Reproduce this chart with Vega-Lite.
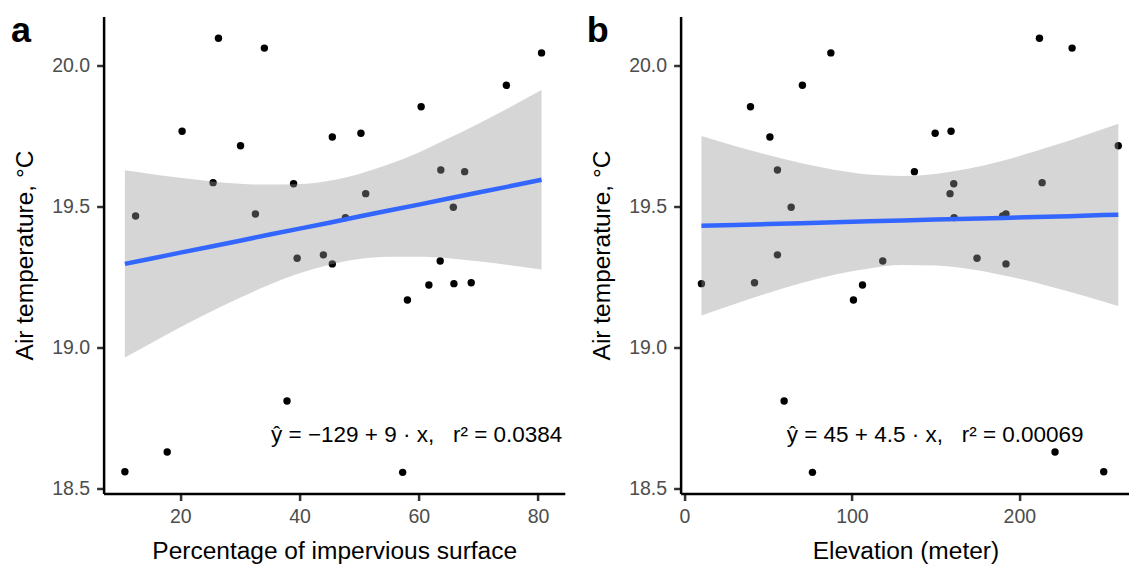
{
  "$schema": "https://vega.github.io/schema/vega-lite/v6.json",
  "background": "white",
  "padding": {"left": 10.6, "top": 12.5, "right": 0, "bottom": 0},
  "spacing": 115,
  "bounds": "flush",
  "config": {
    "view": {"stroke": null},
    "font": "Liberation Sans",
    "axis": {
      "grid": false,
      "domainColor": "black",
      "domainWidth": 2.5,
      "tickColor": "#333333",
      "tickWidth": 2.5,
      "tickSize": 7,
      "labelColor": "#4D4D4D",
      "labelFontSize": 19.5,
      "labelFont": "Liberation Sans",
      "labelPadding": 7,
      "titleFont": "Liberation Sans",
      "titleFontSize": 24.5,
      "titleFontWeight": "normal",
      "titleColor": "black"
    },
    "axisY": {"titlePadding": 14},
    "axisX": {"titlePadding": 13, "labelPadding": 7.5}
  },
  "datasets": {
    "pts": [
      {"temp": 20.097, "imperv": 26.4, "elev": 212.0},
      {"temp": 20.062, "imperv": 34.1, "elev": 231.5},
      {"temp": 20.045, "imperv": 80.6, "elev": 87.4},
      {"temp": 19.930, "imperv": 74.7, "elev": 70.4},
      {"temp": 19.854, "imperv": 60.4, "elev": 39.4},
      {"temp": 19.767, "imperv": 20.3, "elev": 159.2},
      {"temp": 19.760, "imperv": 50.3, "elev": 149.7},
      {"temp": 19.747, "imperv": 45.5, "elev": 51.0},
      {"temp": 19.716, "imperv": 30.1, "elev": 259.1},
      {"temp": 19.630, "imperv": 63.7, "elev": 55.5},
      {"temp": 19.624, "imperv": 67.7, "elev": 137.3},
      {"temp": 19.585, "imperv": 25.5, "elev": 213.6},
      {"temp": 19.581, "imperv": 39.0, "elev": 160.8},
      {"temp": 19.546, "imperv": 51.1, "elev": 158.6},
      {"temp": 19.498, "imperv": 65.8, "elev": 63.7},
      {"temp": 19.474, "imperv": 32.6, "elev": 192.0},
      {"temp": 19.467, "imperv": 12.5, "elev": 190.0},
      {"temp": 19.461, "imperv": 47.7, "elev": 161.0},
      {"temp": 19.329, "imperv": 44.0, "elev": 55.5},
      {"temp": 19.317, "imperv": 39.6, "elev": 174.7},
      {"temp": 19.307, "imperv": 63.6, "elev": 118.4},
      {"temp": 19.297, "imperv": 45.5, "elev": 192.0},
      {"temp": 19.230, "imperv": 68.8, "elev": 41.8},
      {"temp": 19.227, "imperv": 65.9, "elev": 10.1},
      {"temp": 19.222, "imperv": 61.7, "elev": 106.3},
      {"temp": 19.169, "imperv": 58.1, "elev": 100.9},
      {"temp": 18.811, "imperv": 37.9, "elev": 59.5},
      {"temp": 18.630, "imperv": 17.8, "elev": 221.3},
      {"temp": 18.560, "imperv": 10.7, "elev": 250.4},
      {"temp": 18.558, "imperv": 57.3, "elev": 76.4}
    ],
    "bandA": [
      {"x": 10.7, "lo": 18.965, "hi": 19.629, "fit": 19.297},
      {"x": 15, "lo": 19.015, "hi": 19.616, "fit": 19.315},
      {"x": 20, "lo": 19.072, "hi": 19.602, "fit": 19.337},
      {"x": 25, "lo": 19.126, "hi": 19.590, "fit": 19.358},
      {"x": 30, "lo": 19.177, "hi": 19.581, "fit": 19.379},
      {"x": 35, "lo": 19.224, "hi": 19.578, "fit": 19.401},
      {"x": 40, "lo": 19.264, "hi": 19.580, "fit": 19.422},
      {"x": 45, "lo": 19.294, "hi": 19.592, "fit": 19.443},
      {"x": 50, "lo": 19.314, "hi": 19.616, "fit": 19.465},
      {"x": 55, "lo": 19.322, "hi": 19.650, "fit": 19.486},
      {"x": 60, "lo": 19.322, "hi": 19.692, "fit": 19.507},
      {"x": 65, "lo": 19.317, "hi": 19.742, "fit": 19.529},
      {"x": 70, "lo": 19.306, "hi": 19.794, "fit": 19.550},
      {"x": 75, "lo": 19.293, "hi": 19.849, "fit": 19.571},
      {"x": 80.6, "lo": 19.277, "hi": 19.913, "fit": 19.595}
    ],
    "bandB": [
      {"x": 10.1, "lo": 19.114, "hi": 19.750, "fit": 19.432},
      {"x": 30, "lo": 19.155, "hi": 19.715, "fit": 19.435},
      {"x": 50, "lo": 19.194, "hi": 19.683, "fit": 19.438},
      {"x": 70, "lo": 19.229, "hi": 19.654, "fit": 19.441},
      {"x": 90, "lo": 19.259, "hi": 19.630, "fit": 19.445},
      {"x": 110, "lo": 19.281, "hi": 19.614, "fit": 19.448},
      {"x": 130, "lo": 19.293, "hi": 19.609, "fit": 19.451},
      {"x": 150, "lo": 19.291, "hi": 19.616, "fit": 19.454},
      {"x": 170, "lo": 19.279, "hi": 19.635, "fit": 19.457},
      {"x": 190, "lo": 19.257, "hi": 19.663, "fit": 19.460},
      {"x": 210, "lo": 19.230, "hi": 19.697, "fit": 19.463},
      {"x": 230, "lo": 19.198, "hi": 19.734, "fit": 19.466},
      {"x": 250, "lo": 19.164, "hi": 19.775, "fit": 19.470},
      {"x": 259.1, "lo": 19.148, "hi": 19.794, "fit": 19.471}
    ]
  },
  "hconcat": [
    {
      "width": 461.2,
      "height": 477,
      "layer": [
        {
          "data": {"name": "pts"},
          "mark": {"type": "circle", "size": 55, "color": "black", "opacity": 1},
          "encoding": {
            "x": {"field": "imperv", "type": "quantitative", "scale": {"domain": [7.13, 84.5], "nice": false, "zero": false}, "axis": {"values": [20, 40, 60, 80], "title": "Percentage of impervious surface"}},
            "y": {"field": "temp", "type": "quantitative", "scale": {"domain": [18.483, 20.174], "nice": false, "zero": false}, "axis": {"values": [18.5, 19, 19.5, 20], "format": ".1f", "title": "Air temperature, °C"}}
          }
        },
        {
          "data": {"name": "bandA"},
          "mark": {"type": "area", "color": "#999999", "opacity": 0.4, "interpolate": "monotone"},
          "encoding": {
            "x": {"field": "x", "type": "quantitative", "scale": {"domain": [7.13, 84.5], "nice": false, "zero": false}, "axis": {"title": "Percentage of impervious surface"}},
            "y": {"field": "lo", "type": "quantitative", "scale": {"domain": [18.483, 20.174], "nice": false, "zero": false}, "axis": {"title": "Air temperature, °C"}},
            "y2": {"field": "hi"}
          }
        },
        {
          "data": {"name": "bandA"},
          "mark": {"type": "line", "color": "#3366FF", "strokeWidth": 4.5},
          "encoding": {
            "x": {"field": "x", "type": "quantitative", "axis": {"title": "Percentage of impervious surface"}},
            "y": {"field": "fit", "type": "quantitative", "axis": {"title": "Air temperature, °C"}}
          }
        },
        {
          "data": {"values": [{}]},
          "mark": {"type": "text", "text": "ŷ = −129 + 9 · x,\u00a0\u00a0 r² = 0.0384", "fontSize": 22.5, "font": "Liberation Sans", "align": "center", "baseline": "alphabetic", "color": "black"},
          "encoding": {
            "x": {"datum": 59.65, "type": "quantitative"},
            "y": {"datum": 18.666, "type": "quantitative"}
          }
        },
        {
          "data": {"values": [{}]},
          "mark": {"type": "text", "text": "a", "fontSize": 36, "fontWeight": "bold", "font": "Liberation Sans", "align": "left", "baseline": "alphabetic", "color": "black"},
          "encoding": {
            "x": {"datum": -8.42, "type": "quantitative"},
            "y": {"datum": 20.084, "type": "quantitative"}
          }
        }
      ]
    },
    {
      "width": 449.6,
      "height": 477,
      "layer": [
        {
          "data": {"name": "pts"},
          "mark": {"type": "circle", "size": 55, "color": "black", "opacity": 1},
          "encoding": {
            "x": {"field": "elev", "type": "quantitative", "scale": {"domain": [-2.35, 266.2], "nice": false, "zero": false}, "axis": {"values": [0, 100, 200], "title": "Elevation (meter)"}},
            "y": {"field": "temp", "type": "quantitative", "scale": {"domain": [18.483, 20.174], "nice": false, "zero": false}, "axis": {"values": [18.5, 19, 19.5, 20], "format": ".1f", "title": "Air temperature, °C"}}
          }
        },
        {
          "data": {"name": "bandB"},
          "mark": {"type": "area", "color": "#999999", "opacity": 0.4, "interpolate": "monotone"},
          "encoding": {
            "x": {"field": "x", "type": "quantitative", "scale": {"domain": [-2.35, 266.2], "nice": false, "zero": false}, "axis": {"title": "Elevation (meter)"}},
            "y": {"field": "lo", "type": "quantitative", "scale": {"domain": [18.483, 20.174], "nice": false, "zero": false}, "axis": {"title": "Air temperature, °C"}},
            "y2": {"field": "hi"}
          }
        },
        {
          "data": {"name": "bandB"},
          "mark": {"type": "line", "color": "#3366FF", "strokeWidth": 4.5},
          "encoding": {
            "x": {"field": "x", "type": "quantitative", "axis": {"title": "Elevation (meter)"}},
            "y": {"field": "fit", "type": "quantitative", "axis": {"title": "Air temperature, °C"}}
          }
        },
        {
          "data": {"values": [{}]},
          "mark": {"type": "text", "text": "ŷ = 45 + 4.5 · x,\u00a0\u00a0 r² = 0.00069", "fontSize": 22.5, "font": "Liberation Sans", "align": "center", "baseline": "alphabetic", "color": "black"},
          "encoding": {
            "x": {"datum": 149.7, "type": "quantitative"},
            "y": {"datum": 18.666, "type": "quantitative"}
          }
        },
        {
          "data": {"values": [{}]},
          "mark": {"type": "text", "text": "b", "fontSize": 36, "fontWeight": "bold", "font": "Liberation Sans", "align": "left", "baseline": "alphabetic", "color": "black"},
          "encoding": {
            "x": {"datum": -58.44, "type": "quantitative"},
            "y": {"datum": 20.084, "type": "quantitative"}
          }
        }
      ]
    }
  ]
}
